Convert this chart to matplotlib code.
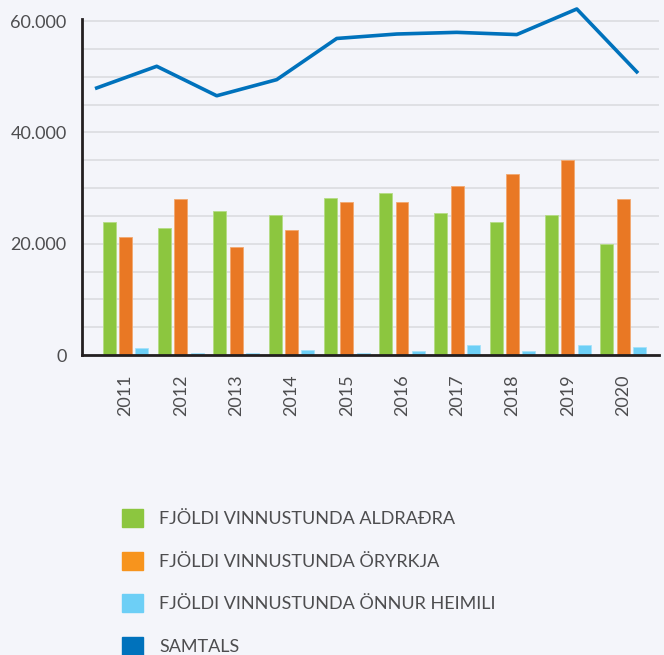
import matplotlib
matplotlib.use("Agg")
import matplotlib.pyplot as plt
from matplotlib.patches import Patch
from matplotlib.ticker import FuncFormatter, MultipleLocator
import numpy as np

plt.rcParams['font.family'] = ['Lato', 'DejaVu Sans']

years = ['2011', '2012', '2013', '2014', '2015', '2016', '2017', '2018', '2019', '2020']
aldradra = [23950, 22800, 25900, 25100, 28300, 29200, 25600, 23950, 25100, 19900]
oryrkja = [21300, 28000, 19350, 22500, 27500, 27500, 30300, 32600, 35000, 28000]
onnur = [1200, 400, 400, 900, 400, 650, 1750, 650, 1750, 1450]
samtals = [48000, 51900, 46600, 49500, 56900, 57700, 58000, 57600, 62200, 50900]
labels = ['FJÖLDI VINNUSTUNDA ALDRAÐRA', 'FJÖLDI VINNUSTUNDA ÖRYRKJA',
          'FJÖLDI VINNUSTUNDA ÖNNUR HEIMILI', 'SAMTALS']

bg = '#f4f5fa'
green = '#8cc63f'
orange = '#e97824'
orange_leg = '#f7941d'
light = '#6dcff6'
blue = '#0072bc'
txt = '#4d4d4f'

W, H = 664, 655
fig = plt.figure(figsize=(W / 100, H / 100), dpi=100, facecolor=bg)
ax = fig.add_axes([82 / W, 1 - 355 / H, (659 - 82) / W, (355 - 19) / H], facecolor=bg)

x = np.arange(len(years))
off = 0.295
bw = 0.235
ax.bar(x - off, aldradra, bw, color=green, edgecolor='#b5dc85', linewidth=0.6, zorder=3)
ax.bar(x, oryrkja, bw, color=orange, edgecolor='#f2a86f', linewidth=0.6, zorder=3)
ax.bar(x + off, onnur, bw, color=light, edgecolor='#a5e2fa', linewidth=0.6, zorder=3)

ax.set_xlim(-0.79, 9.65)
ax.set_ylim(0, 60400)
ax.yaxis.set_major_locator(MultipleLocator(20000))
ax.yaxis.set_minor_locator(MultipleLocator(5000))
ax.yaxis.set_major_formatter(FuncFormatter(lambda v, p: f"{int(v):,}".replace(',', '.')))
ax.grid(which='both', axis='y', color='#d9dade', linewidth=1.1, zorder=0)
ax.set_xticks(x)
ax.set_xticklabels(years, rotation=90)
ax.tick_params(axis='both', which='both', length=0, labelsize=13, labelcolor=txt)
ax.tick_params(axis='x', pad=14)
ax.tick_params(axis='y', pad=11)
for lab in ax.get_yticklabels():
    lab.set_verticalalignment('center_baseline')
for s in ['top', 'right']:
    ax.spines[s].set_visible(False)
for s in ['left', 'bottom']:
    ax.spines[s].set_color('#231f20')
    ax.spines[s].set_linewidth(2)
    ax.spines[s].set_zorder(5)

# line sits on its own (secondary) category axis
ax2 = ax.twiny()
ax2.set_xlim(-0.245, 9.37)
ax2.set_ylim(ax.get_ylim())
ax2.plot(np.arange(len(years)), samtals, color=blue, linewidth=2.6, clip_on=False, zorder=4)
ax2.axis('off')

handles = [Patch(color=green), Patch(color=orange_leg), Patch(color=light), Patch(color=blue)]
fig.legend(handles, labels, loc='upper left', bbox_to_anchor=(106 / W, 1 - 493 / H),
           frameon=False, fontsize=13, handlelength=1.15, handleheight=1.15,
           handletextpad=0.9, labelspacing=1.35, labelcolor=txt)

fig.savefig('out.png', dpi=100, facecolor=bg)
